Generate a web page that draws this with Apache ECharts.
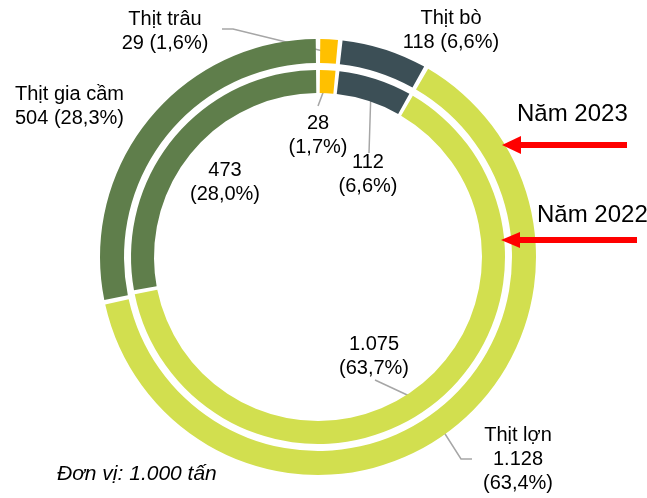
<!DOCTYPE html>
<html lang="vi">
<head>
<meta charset="UTF-8">
<title>Thịt hơi</title>
<script src="https://cdn.jsdelivr.net/npm/echarts@6/dist/echarts.min.js"></script>
<style>
html, body { margin: 0; padding: 0; background: #fff; }
#chart { width: 647px; height: 498px; }
</style>
</head>
<body>
<div id="chart"></div>
<script>
// sản lượng, đơn vị 1.000 tấn
var categories = ['Thịt trâu', 'Thịt bò', 'Thịt lợn', 'Thịt gia cầm'];
var values2023 = [29, 118, 1128, 504];
var values2022 = [28, 112, 1075, 473];
var colors = ['#FFC000', '#3C4F56', '#D2DF4F', '#5F7E4B'];

var FONT = 'Liberation Sans, Arial, sans-serif';
var LINE = '#A6A6A6';

// vị trí nhãn (pixel)
var outerLabels = [
    { x: 165, y: 31, align: 'center', line: [[222, 29], [233, 29], [327, 52]] },
    { x: 451, y: 30, align: 'center' },
    { x: 518, y: 459, align: 'center', line: [[472, 459], [461, 459], [440, 426]] },
    { x: 15, y: 106, align: 'left' }
];
var innerLabels = [
    { x: 318, y: 135, align: 'center', line: [[318, 106], [327, 82]] },
    { x: 368, y: 174, align: 'center', line: [[369, 153], [371, 89]] },
    { x: 374, y: 356, align: 'center', line: [[375, 380], [418, 400]] },
    { x: 225, y: 182, align: 'center' }
];

function fmtNum(v) {
    return String(v).replace(/\B(?=(\d{3})+(?!\d))/g, '.');
}
function fmtPct(v, arr) {
    var total = arr.reduce(function (a, b) { return a + b; }, 0);
    return (v / total * 100).toFixed(1).replace('.', ',') + '%';
}

function makeData(values, labels) {
    return categories.map(function (name, i) {
        return {
            name: name,
            value: values[i],
            itemStyle: { color: colors[i] },
            labelLine: { show: !!labels[i].line }
        };
    });
}

var chart = echarts.init(document.getElementById('chart'));
var labelStyle = {
    show: true,
    color: '#000',
    fontFamily: FONT,
    fontSize: 20,
    lineHeight: 24,
    overflow: 'none'
};

chart.setOption({
    animation: false,
    series: [
        {
            name: '2023',
            type: 'pie',
            center: [318, 257],
            radius: [194, 218],
            startAngle: 90,
            padAngle: 1.2,
            data: makeData(values2023, outerLabels),
            label: Object.assign({}, labelStyle, {
                formatter: function (p) {
                    var sep = p.value >= 1000 ? '\n' : ' ';
                    return p.name + '\n' + fmtNum(p.value) + sep + '(' + fmtPct(p.value, values2023) + ')';
                }
            }),
            labelLine: { lineStyle: { color: LINE, width: 1.5 } },
            labelLayout: function (p) {
                var l = outerLabels[p.dataIndex];
                var o = { x: l.x, y: l.y, align: l.align, verticalAlign: 'middle' };
                if (l.line) o.labelLinePoints = l.line;
                return o;
            }
        },
        {
            name: '2022',
            type: 'pie',
            center: [318, 257],
            radius: [164, 187],
            startAngle: 90,
            padAngle: 1.2,
            data: makeData(values2022, innerLabels),
            label: Object.assign({}, labelStyle, {
                formatter: function (p) {
                    return fmtNum(p.value) + '\n(' + fmtPct(p.value, values2022) + ')';
                }
            }),
            labelLine: { lineStyle: { color: LINE, width: 1.5 } },
            labelLayout: function (p) {
                var l = innerLabels[p.dataIndex];
                var o = { x: l.x, y: l.y, align: l.align, verticalAlign: 'middle' };
                if (l.line) o.labelLinePoints = l.line;
                return o;
            }
        }
    ],
    graphic: [
        { type: 'text', z: 100, left: 517, top: 102, style: { text: 'Năm 2023', font: '24px ' + FONT, fill: '#000' } },
        { type: 'text', z: 100, left: 537, top: 203, style: { text: 'Năm 2022', font: '24px ' + FONT, fill: '#000' } },
        { type: 'rect', z: 100, shape: { x: 518, y: 142, width: 109, height: 6 }, style: { fill: '#FF0000' } },
        { type: 'polygon', z: 100, shape: { points: [[502, 145], [521, 136], [521, 154]] }, style: { fill: '#FF0000' } },
        { type: 'rect', z: 100, shape: { x: 518, y: 237, width: 119, height: 6 }, style: { fill: '#FF0000' } },
        { type: 'polygon', z: 100, shape: { points: [[501, 240], [520, 232], [520, 248]] }, style: { fill: '#FF0000' } },
        { type: 'text', z: 100, left: 57, top: 464, style: { text: 'Đơn vị: 1.000 tấn', font: 'italic 21px ' + FONT, fill: '#000' } }
    ]
});
</script>
</body>
</html>
